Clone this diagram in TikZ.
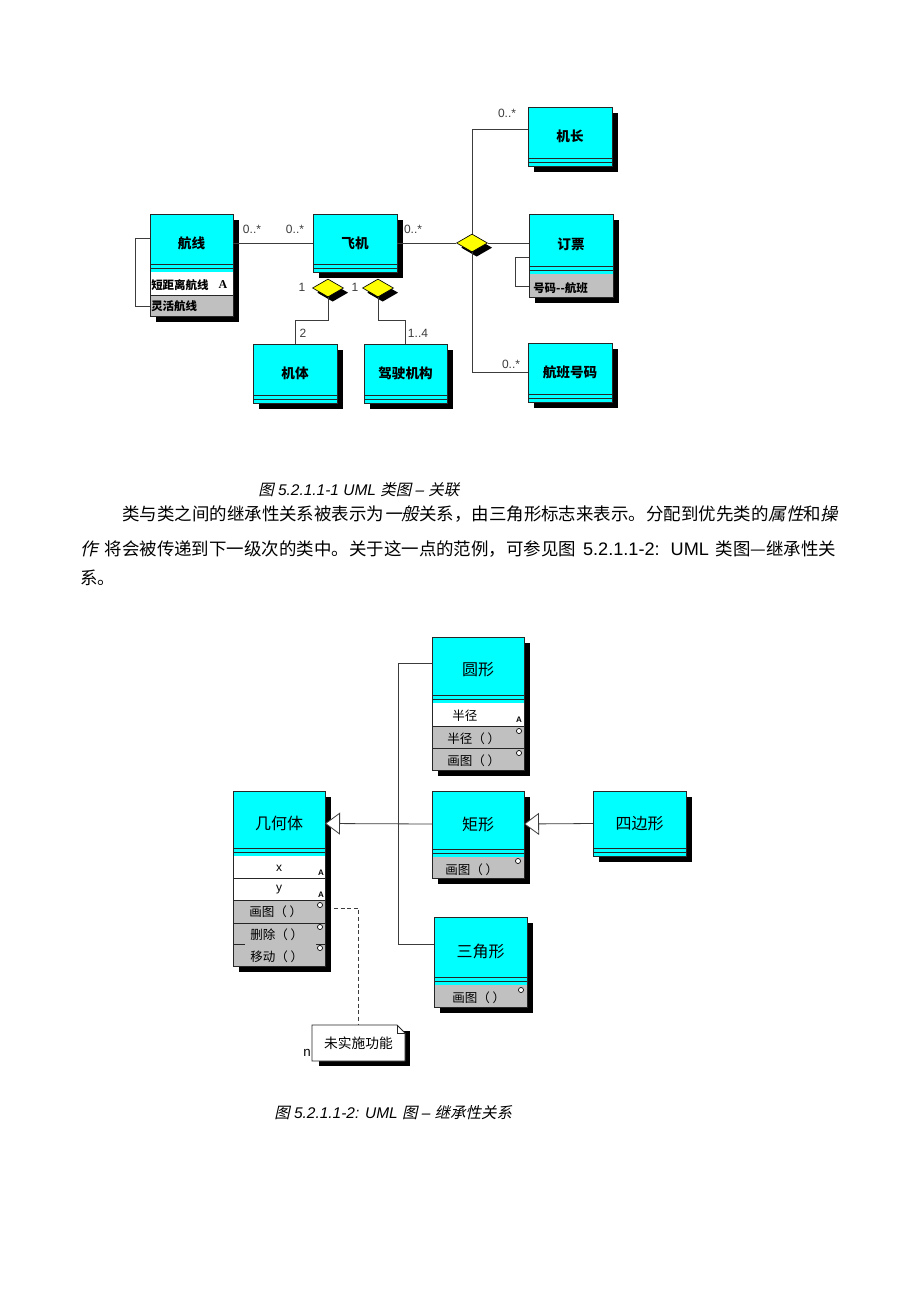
\documentclass[tikz,border=0pt]{standalone}
\usepackage{fontspec}
\setmainfont{Liberation Sans}
\newfontfamily\zh{Noto Sans CJK SC}
\newfontfamily\zhi{Noto Sans CJK SC}[FakeSlant=0.22]
\newfontfamily\serifA{Liberation Serif}
\usetikzlibrary{shapes.geometric,arrows.meta,fit,calc,shadows}
\definecolor{umlcyan}{HTML}{00FFFF}
\definecolor{rowgray}{HTML}{C0C0C0}
\definecolor{umlyellow}{HTML}{FFFF00}
\definecolor{edgegray}{HTML}{3C3C3C}
\newcommand\toplab{\zh\bfseries\fontsize{10.2}{12}\selectfont}
\newcommand\toprow{\zh\bfseries\fontsize{8.6}{10}\selectfont}
\newcommand\botlab{\zh\fontsize{12}{14}\selectfont}
\newcommand\botrow{\zh\fontsize{9.4}{11}\selectfont}
\newcommand\paratxt{\fontsize{13.1}{15}\selectfont}
\tikzset{
  hdr/.style={draw=none, fill=umlcyan, inner sep=0pt, outer sep=0pt},
  boxline/.style={draw=black!85, line width=0.6pt},
  bandline/.style={draw=black!85, line width=0.6pt},
  conn/.style={draw=edgegray, line width=0.6pt},
  inh/.style={conn, -{Triangle[fill=white, length=11.25pt, width=16.5pt, line width=0.6pt]}},
  agg/.style={diamond, draw=black, fill=umlyellow, inner sep=0pt, line width=0.5pt,
    minimum width=23.25pt, minimum height=13.5pt,
    drop shadow={shadow xshift=3.5pt, shadow yshift=-3.5pt, fill=black, opacity=1}},
  mult/.style={inner sep=0pt, text=edgegray, font=\fontsize{9}{10}\selectfont},
  rowtxt/.style={inner sep=0pt},
  lab/.style={inner sep=0pt},
  mk/.style={inner sep=0pt, font=\fontsize{6}{6}\selectfont\bfseries},
}
% #1 name #2 x1 #3 y1 #4 x2 #5 end of cyan band #6 bottom of box #7 label
\newcommand\clshead[7]{%
  \fill[black] ($(#2,#3)+(6,6)$) rectangle ($(#4,#6)+(6,6)$);
  \node[hdr, fit={(#2,#3) (#4,#5)}] (#1) {};
  \draw[bandline] (#2,#5-8) -- (#4,#5-8) (#2,#5-3.5) -- (#4,#5-3.5);
  \node[lab] (#1-lab) at (#1.center) {#7};
}
\newcommand\clsframe[4]{\draw[boxline] (#1,#2) rectangle (#3,#4);}
\newcommand\opcircle[2]{\draw[black, line width=0.5pt, fill=white] (#1,#2) circle [radius=1.9pt];}

\begin{document}
\begin{tikzpicture}[x=0.75pt,y=-0.75pt]
\fill[white] (0,0) rectangle (920,1302);
\useasboundingbox (0,0) rectangle (920,1302);

% ================= Top diagram =================
% 航线
\clshead{hx}{150}{214}{233}{272}{316}{\toplab 航线}
\fill[white] (150,272) rectangle (233,295);
\fill[rowgray] (150,295) rectangle (233,316);
\draw[boxline] (150,295) -- (233,295);
\node[rowtxt, anchor=west] (hxr1) at (151,285) {\toprow 短距离航线};
\node[rowtxt] (hxA) at (223,285) {\serifA\bfseries\fontsize{9}{10}\selectfont A};
\node[rowtxt, anchor=west] (hxr2) at (151,306) {\toprow 灵活航线};
\clsframe{150}{214}{233}{316}

% 飞机
\clshead{fj}{313}{214}{397}{272}{272}{\toplab 飞机}
\clsframe{313}{214}{397}{272}

% 机长
\clshead{jz}{528}{107}{612}{166}{166}{\toplab 机长}
\clsframe{528}{107}{612}{166}

% 订票
\clshead{dp}{529}{214}{613}{274}{297}{\toplab 订票}
\fill[rowgray] (529,274) rectangle (613,297);
\node[rowtxt, anchor=west] (dpr1) at (533,288) {\toprow 号码--航班};
\clsframe{529}{214}{613}{297}

% 航班号码
\clshead{hb}{528}{343}{612}{402}{402}{\toplab 航班号码}
\clsframe{528}{343}{612}{402}

% 机体
\clshead{jt}{253}{344}{337}{403}{403}{\toplab 机体}
\clsframe{253}{344}{337}{403}

% 驾驶机构
\clshead{js}{364}{344}{447}{403}{403}{\toplab 驾驶机构}
\clsframe{364}{344}{447}{403}

% connectors top
\draw[conn] (hx.east) -- (fj.west);
\draw[conn] ($(hx.west)+(0,-5)$) -- ++(-15,0) -- ++(0,68) -- ++(15,0);
\node[agg] (d1) at (472,243) {};
\node[agg] (d2) at (328,288) {};
\node[agg] (d3) at (378,288) {};
\draw[conn] (fj.east) -- (d1.west);
\draw[conn] (d1.east) -- (d1.east -| dp.west);
\draw[conn] (d1.north) |- ($(jz.west)+(0,-7)$);
\draw[conn] (d1.south) |- (hb.west);
\draw[conn] ($(dp.west)+(0,13)$) -- ++(-14,0) -- ++(0,29) -- ++(14,0);
\draw[conn] (d2.south) -- ++(0,23) -| (jt.north);
\draw[conn] (d3.south) -- ++(0,23) -| (js.north);

% multiplicities
\node[mult] (m1) at (252,229) {0..*};
\node[mult] (m2) at (295,229) {0..*};
\node[mult] (m3) at (413,229) {0..*};
\node[mult] (m4) at (507,113) {0..*};
\node[mult] (m5) at (511,364) {0..*};
\node[mult] (m6) at (302,287) {1};
\node[mult] (m7) at (355,287) {1};
\node[mult] (m8) at (303,333) {2};
\node[mult] (m9) at (418,333) {1..4};

% ================= Caption and paragraph =================
\node[anchor=west, inner sep=0pt, font=\fontsize{11.6}{13}\selectfont\itshape] (cap1) at (258,490)
  {{\zhi 图} 5.2.1.1-1 UML {\zhi 类图} – {\zhi 关联}};
\node[anchor=west, inner sep=0pt, font=\paratxt] (p1) at (122,514)
  {{\zh 类与类之间的继承性关系被表示为}{\zhi 一般}{\zh 关系，由三角形标志来表示。分配到优先类的}{\zhi 属性}{\zh 和}{\zhi 操}};
\node[anchor=west, inner sep=0pt, font=\paratxt] (p2) at (80,549)
  {\hbox to 567pt{{\zhi 作} {\zh 将会被传递到下一级次的类中。关于这一点的范例，可参见图} {\fontsize{13.6}{15}\selectfont 5.2.1.1-2: UML} {\zh 类图—继承性关}}};
\node[anchor=west, inner sep=0pt, font=\paratxt] (p3) at (80,578) {\zh 系。};

% ================= Bottom diagram =================
% 几何体
\clshead{gh}{233}{791}{325}{856}{966}{\botlab 几何体}
\fill[white] (233,856) rectangle (325,900);
\fill[rowgray] (233,900) rectangle (325,966);
\draw[boxline] (233,878) -- (325,878) (233,900) -- (325,900) (233,923) -- (325,923);
\draw[boxline] (233,944) -- (245,944) (316,944) -- (325,944);
\node[rowtxt] (ghx) at (279,868) {\fontsize{9}{10}\selectfont x};
\node[rowtxt] (ghy) at (279,890) {\fontsize{9}{10}\selectfont y};
\node[rowtxt, anchor=west] (gh1) at (249,912) {\botrow 画图（ ）};
\node[rowtxt, anchor=west] (gh2) at (250,935) {\botrow 删除（ ）};
\node[rowtxt, anchor=west] (gh3) at (250,957) {\botrow 移动（ ）};
\node[mk] (ghA1) at (321,873) {A};
\node[mk] (ghA2) at (321,895) {A};
\opcircle{320}{905}
\opcircle{320}{927}
\opcircle{320}{948}
\clsframe{233}{791}{325}{966}

% 圆形
\clshead{yx}{432}{637}{524}{703}{770}{\botlab 圆形}
\fill[white] (432,703) rectangle (524,726);
\fill[rowgray] (432,726) rectangle (524,770);
\draw[boxline] (432,726) -- (524,726) (432,748) -- (524,748);
\node[rowtxt, anchor=west] (yx1) at (452,716) {\botrow 半径};
\node[rowtxt, anchor=west] (yx2) at (447,739) {\botrow 半径（ ）};
\node[rowtxt, anchor=west] (yx3) at (447,761) {\botrow 画图（ ）};
\node[mk] (yxA) at (519,720) {A};
\opcircle{519}{731}
\opcircle{519}{753}
\clsframe{432}{637}{524}{770}

% 矩形
\clshead{jx}{432}{791}{524}{857}{878}{\botlab 矩形}
\fill[rowgray] (432,857) rectangle (524,878);
\node[rowtxt, anchor=west] (jx1) at (445,870) {\botrow 画图（ ）};
\opcircle{518}{861}
\clsframe{432}{791}{524}{878}

% 四边形
\clshead{sb}{593}{791}{686}{856}{856}{\botlab 四边形}
\clsframe{593}{791}{686}{856}

% 三角形
\clshead{sj}{434}{917}{527}{985}{1007}{\botlab 三角形}
\fill[rowgray] (434,985) rectangle (527,1007);
\node[rowtxt, anchor=west] (sj1) at (452,998) {\botrow 画图（ ）};
\opcircle{521}{990}
\clsframe{434}{917}{527}{1007}

% note
\fill[black] (319,1031) rectangle (410,1066);
\filldraw[fill=white, draw=black!85, line width=0.6pt] (312,1025) -- (397,1025) -- (405,1033) -- (405,1061) -- (312,1061) -- cycle;
\draw[black!85, line width=0.6pt] (397,1025) -- (397,1033) -- (405,1033);
\node[fit={(312,1025) (405,1061)}, inner sep=0pt] (note) {};
\node[inner sep=0pt] (note-lab) at (note.center) {\zh\fontsize{10.3}{12}\selectfont 未实施功能};
\node[inner sep=0pt, font=\fontsize{10}{10}\selectfont] (nmark) at (307,1053) {n};

% connectors bottom
\coordinate (bus) at (398,823);
\draw[inh] (jx.west) -- (gh.east);
\draw[conn] ($(yx.west)+(0,-7)$) -| (bus);
\draw[conn] ($(sj.west)+(0,-7)$) -| (bus);
\draw[inh] (sb.west) -- (jx.east);
\coordinate (ds) at (334,908);
\draw[conn, dashed, dash pattern=on 3pt off 2pt] (ds) -| (note.north);

% caption 2
\node[anchor=west, inner sep=0pt, font=\fontsize{11.6}{13}\selectfont\itshape] (cap2) at (274,1113)
  {{\zhi 图} 5.2.1.1-2: UML {\zhi 图} – {\zhi 继承性关系}};
\end{tikzpicture}
\end{document}
